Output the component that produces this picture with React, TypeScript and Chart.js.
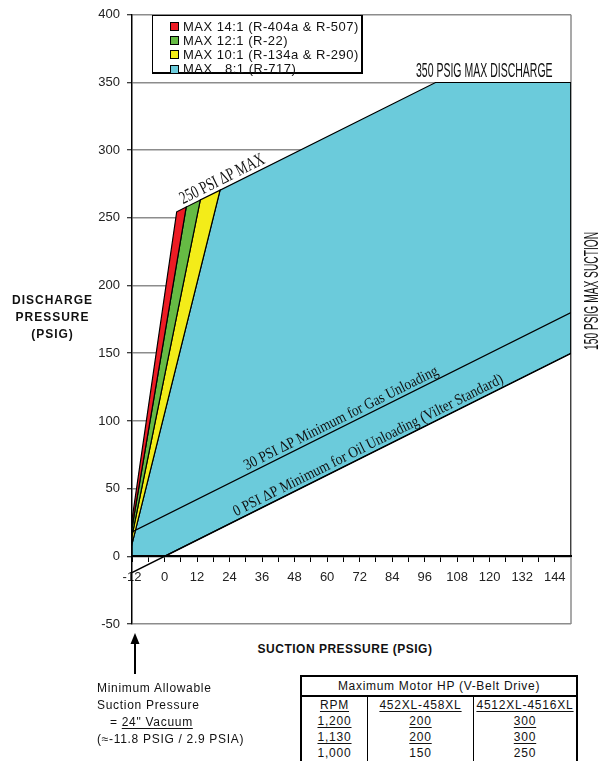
import React, { useEffect, useRef } from 'react';
import { Chart, registerables } from 'chart.js';

Chart.register(...registerables);

// ---- tick values ----
const yTickValues = [-50, 0, 50, 100, 150, 200, 250, 300, 350, 400];
const xTickValues = [-12, -6, 0, 6, 12, 18, 24, 30, 36, 42, 48, 54, 60, 66, 72, 78, 84, 90, 96, 102, 108, 114, 120, 126, 132, 138, 144];
const xLabeledTicks = [-12, 0, 12, 24, 36, 48, 60, 72, 84, 96, 108, 120, 132, 144];

// ---- operating envelope polygons: suction (PSIG) / discharge (PSIG) ----
const ratio8Suction = [-12, 20.5, 100, 150, 150, 0, -12, -12];
const ratio8Discharge = [9, 270.5, 350, 350, 150, 0, 0, 9];
const ratio10Suction = [-12, 13.2, 20.5, -12, -12];
const ratio10Discharge = [15, 263.2, 270.5, 9, 15];
const ratio12Suction = [-12, 8, 13.2, -12, -12];
const ratio12Discharge = [21, 258, 263.2, 15, 21];
const ratio14Suction = [-12, 4.5, 8, -12, -12];
const ratio14Discharge = [27, 254.5, 258, 21, 27];
// area below the 0 PSI ΔP line (blank, hides the grid)
const belowSuction = [0, 150, 150, 0];
const belowDischarge = [0, 150, 0, 0];

// ---- boundary lines ----
const gasUnloadSuction = [-12, 150];
const gasUnloadDischarge = [18, 180];
const oilUnloadSuction = [-12, 150];
const oilUnloadDischarge = [-12, 150];
const maxSuctionSuction = [150, 150];
const maxSuctionDischarge = [0, 350];

// ---- texts ----
const legendLabels = ['MAX 14:1 (R-404a & R-507)', 'MAX 12:1 (R-22)', 'MAX 10:1 (R-134a & R-290)', 'MAX   8:1 (R-717)'];
const legendColors = ['#ED1C24', '#66BB44', '#F3EC19', '#6BCBDB'];
const lineTexts = [
  '250 PSI \u0394P MAX',
  '30 PSI \u0394P Minimum for Gas Unloading',
  '0 PSI \u0394P Minimum for Oil Unloading (Vilter Standard)',
  '350 PSIG MAX DISCHARGE',
  '150 PSIG MAX SUCTION',
];
const yTitleLines = ['DISCHARGE', 'PRESSURE', '(PSIG)'];
const xTitle = 'SUCTION PRESSURE (PSIG)';
const noteLines = ['Minimum Allowable', 'Suction Pressure', '24" Vacuum', '(\u2248-11.8 PSIG / 2.9 PSIA)'];
const tableTitle = 'Maximum Motor HP (V-Belt Drive)';
const tableHeader = ['RPM', '452XL-458XL', '4512XL-4516XL'];
const tableRpm = ['1,200', '1,130', '1,000'];
const tableHpSmall = ['200', '200', '150'];
const tableHpLarge = ['300', '300', '250'];

const pts = (xs: number[], ys: number[]) => xs.map((x, i) => ({ x, y: ys[i] }));

const annotPlugin = {
  id: 'annot',
  beforeDatasetsDraw(chart: any) {
    const { ctx, chartArea: a } = chart;
    ctx.save();
    ctx.strokeStyle = '#8c8c8c';
    ctx.lineWidth = 1.5;
    ctx.beginPath();
    ctx.moveTo(a.right, a.top);
    ctx.lineTo(a.right, a.bottom);
    ctx.stroke();
    ctx.restore();
  },
  afterDatasetsDraw(chart: any) {
    const { ctx, chartArea: a } = chart;
    const xs = chart.scales.x;
    const ys = chart.scales.y;
    const along = (text: string, s0: number, d0: number, s1: number, d1: number, font: string, lift: number) => {
      const x0 = xs.getPixelForValue(s0), y0 = ys.getPixelForValue(d0);
      const x1 = xs.getPixelForValue(s1), y1 = ys.getPixelForValue(d1);
      const ang = Math.atan2(y1 - y0, x1 - x0);
      const len = Math.hypot(x1 - x0, y1 - y0);
      ctx.save();
      ctx.translate((x0 + x1) / 2, (y0 + y1) / 2);
      ctx.rotate(ang);
      ctx.font = font;
      ctx.textAlign = 'center';
      ctx.textBaseline = 'alphabetic';
      ctx.fillStyle = '#111';
      const w = ctx.measureText(text).width;
      ctx.scale(len / w, 1);
      ctx.fillText(text, 0, -lift);
      ctx.restore();
    };
    along(lineTexts[0], 7.5, 257.5, 38, 288, '18px "Liberation Serif", serif', 4);
    along(lineTexts[1], 31, 61, 102, 132, '15.5px "Liberation Serif", serif', 4);
    along(lineTexts[2], 27, 27, 126, 126, '15.5px "Liberation Serif", serif', 4);
    along(lineTexts[3], 92.8, 350, 143.2, 350, '20px "Liberation Sans", sans-serif', 5);
    // vertical label right of the plot
    const cy = ys.getPixelForValue(196);
    ctx.save();
    ctx.translate(a.right + 27, cy);
    ctx.rotate(-Math.PI / 2);
    ctx.font = '20px "Liberation Sans", sans-serif';
    ctx.textAlign = 'center';
    ctx.textBaseline = 'alphabetic';
    ctx.fillStyle = '#111';
    const w = ctx.measureText(lineTexts[4]).width;
    ctx.scale(118 / w, 1);
    ctx.fillText(lineTexts[4], 0, 0);
    ctx.restore();
  },
};

export default function App() {
  const ref = useRef<HTMLCanvasElement | null>(null);

  useEffect(() => {
    if (!ref.current) return;
    const poly = (label: string, xs: number[], ys: number[], color: string, bw: number) => ({
      label,
      data: pts(xs, ys),
      fill: 'shape',
      backgroundColor: color,
      borderColor: bw > 0 ? '#000' : 'rgba(0,0,0,0)',
      borderWidth: bw,
      pointRadius: 0,
      tension: 0,
    });
    const line = (label: string, xs: number[], ys: number[], width: number) => ({
      label,
      data: pts(xs, ys),
      fill: false,
      borderColor: '#000',
      borderWidth: width,
      pointRadius: 0,
      tension: 0,
    });
    const chart = new Chart(ref.current, {
      type: 'line',
      data: {
        datasets: [
          line('30 PSI', gasUnloadSuction, gasUnloadDischarge, 1.3),
          line('0 PSI', oilUnloadSuction, oilUnloadDischarge, 1.3),
          line('150 PSIG', maxSuctionSuction, maxSuctionDischarge, 1.5),
          poly(legendLabels[0], ratio14Suction, ratio14Discharge, legendColors[0], 1.2),
          poly(legendLabels[1], ratio12Suction, ratio12Discharge, legendColors[1], 1.2),
          poly(legendLabels[2], ratio10Suction, ratio10Discharge, legendColors[2], 1.2),
          poly(legendLabels[3], ratio8Suction, ratio8Discharge, legendColors[3], 1.2),
          poly('below', belowSuction, belowDischarge, '#ffffff', 0),
        ] as any,
      },
      options: {
        animation: false,
        responsive: true,
        maintainAspectRatio: false,
        layout: { padding: { top: 9.5, right: 37, bottom: 16, left: 0 } },
        plugins: { legend: { display: false }, tooltip: { enabled: false } },
        scales: {
          x: {
            type: 'linear',
            min: -12,
            max: 150,
            position: { y: 0 } as any,
            afterBuildTicks: (s: any) => {
              s.ticks = xTickValues.map((v) => ({ value: v }));
            },
            grid: { drawOnChartArea: false, drawTicks: true, tickLength: 5, tickColor: '#000', tickWidth: 1 },
            border: { display: true, color: '#000', width: 2, z: 1 },
            ticks: {
              autoSkip: false,
              maxRotation: 0,
              padding: 8,
              color: '#222',
              font: { family: '"Liberation Sans", Arial, sans-serif', size: 13 },
              callback: (v: any) => (xLabeledTicks.includes(Number(v)) ? String(v) : ''),
            },
          },
          y: {
            type: 'linear',
            min: -50,
            max: 400,
            afterBuildTicks: (s: any) => {
              s.ticks = yTickValues.map((v) => ({ value: v }));
            },
            afterFit: (s: any) => {
              s.width = 132;
            },
            grid: { color: '#8c8c8c', lineWidth: 1.5, tickColor: '#000', tickLength: 5, tickWidth: 1 },
            border: { display: true, color: '#000', width: 1.5, z: 1 },
            ticks: {
              padding: 7,
              color: '#222',
              font: { family: '"Liberation Sans", Arial, sans-serif', size: 13 },
            },
          },
        } as any,
      },
      plugins: [annotPlugin],
    });
    return () => chart.destroy();
  }, []);

  const sans = '"Liberation Sans", Arial, sans-serif';
  const colW = [66, 106, 102];
  const cell = (text: string, i: number, underline: boolean, key: string) => (
    <div
      key={key}
      style={{
        width: colW[i],
        boxSizing: 'border-box',
        borderRight: i < 2 ? '1.5px solid #000' : 'none',
        textAlign: 'center',
        height: 16,
        lineHeight: '16px',
        fontSize: 12,
        letterSpacing: 0.8,
        textDecoration: underline ? 'underline' : 'none',
        textUnderlineOffset: 2,
        whiteSpace: 'nowrap',
      }}
    >
      {text}
    </div>
  );

  return (
    <div style={{ position: 'absolute', left: 0, top: 0, width: 608, height: 761, overflow: 'hidden', background: '#fff', fontFamily: sans, color: '#111' }}>
      <div style={{ position: 'absolute', left: 0, top: 0, width: 608, height: 640 }}>
        <canvas ref={ref} />
      </div>

      {/* legend */}
      <div style={{ position: 'absolute', left: 152, top: 15, width: 211, height: 59, boxSizing: 'border-box', border: '1px solid #000', borderRightWidth: 2, borderBottomWidth: 2, background: '#fff' }}>
        {legendLabels.map((l, i) => (
          <div key={l} style={{ position: 'absolute', left: 17, top: 3.5 + i * 14.2, height: 14, display: 'flex', alignItems: 'center', whiteSpace: 'pre' }}>
            <div style={{ width: 9, height: 9, boxSizing: 'border-box', border: '1px solid #000', background: legendColors[i], marginRight: 4 }} />
            <span style={{ fontSize: 13, letterSpacing: 0.5, lineHeight: '14px' }}>{l}</span>
          </div>
        ))}
      </div>

      {/* y title */}
      <div style={{ position: 'absolute', left: 0, top: 292, width: 105, textAlign: 'center', fontWeight: 'bold', fontSize: 12, letterSpacing: 1, lineHeight: '17px' }}>
        {yTitleLines.map((t) => (
          <div key={t}>{t}</div>
        ))}
      </div>

      {/* x title */}
      <div style={{ position: 'absolute', left: 215, top: 642, width: 260, textAlign: 'center', fontWeight: 'bold', fontSize: 12, letterSpacing: 0.5, lineHeight: '14px' }}>{xTitle}</div>

      {/* arrow */}
      <svg style={{ position: 'absolute', left: 127, top: 630 }} width={16} height={46}>
        <line x1={8} y1={12} x2={8} y2={44} stroke="#000" strokeWidth={2} />
        <polygon points="3.5,14 8,3 12.5,14" fill="#000" />
      </svg>

      {/* note */}
      <div style={{ position: 'absolute', left: 97, top: 679.5, fontSize: 12, letterSpacing: 0.7, lineHeight: '17px', whiteSpace: 'nowrap' }}>
        <div>{noteLines[0]}</div>
        <div>{noteLines[1]}</div>
        <div style={{ paddingLeft: 13 }}>
          {'= '}
          <span style={{ textDecoration: 'underline', textUnderlineOffset: 2 }}>{noteLines[2]}</span>
        </div>
        <div>{noteLines[3]}</div>
      </div>

      {/* table */}
      <div style={{ position: 'absolute', left: 300, top: 675, width: 278, height: 100, boxSizing: 'border-box', border: '2px solid #000', background: '#fff' }}>
        <div style={{ height: 18, lineHeight: '19px', borderBottom: '2px solid #000', textAlign: 'center', fontSize: 12, letterSpacing: 0.7, whiteSpace: 'nowrap' }}>{tableTitle}</div>
        <div style={{ display: 'flex' }}>{tableHeader.map((t, i) => cell(t, i, true, 'h' + i))}</div>
        {tableRpm.map((r, j) => (
          <div key={r + j} style={{ display: 'flex' }}>
            {cell(r, 0, j < 2, 'a' + j)}
            {cell(tableHpSmall[j], 1, j < 2, 'b' + j)}
            {cell(tableHpLarge[j], 2, j < 2, 'c' + j)}
          </div>
        ))}
      </div>
    </div>
  );
}
